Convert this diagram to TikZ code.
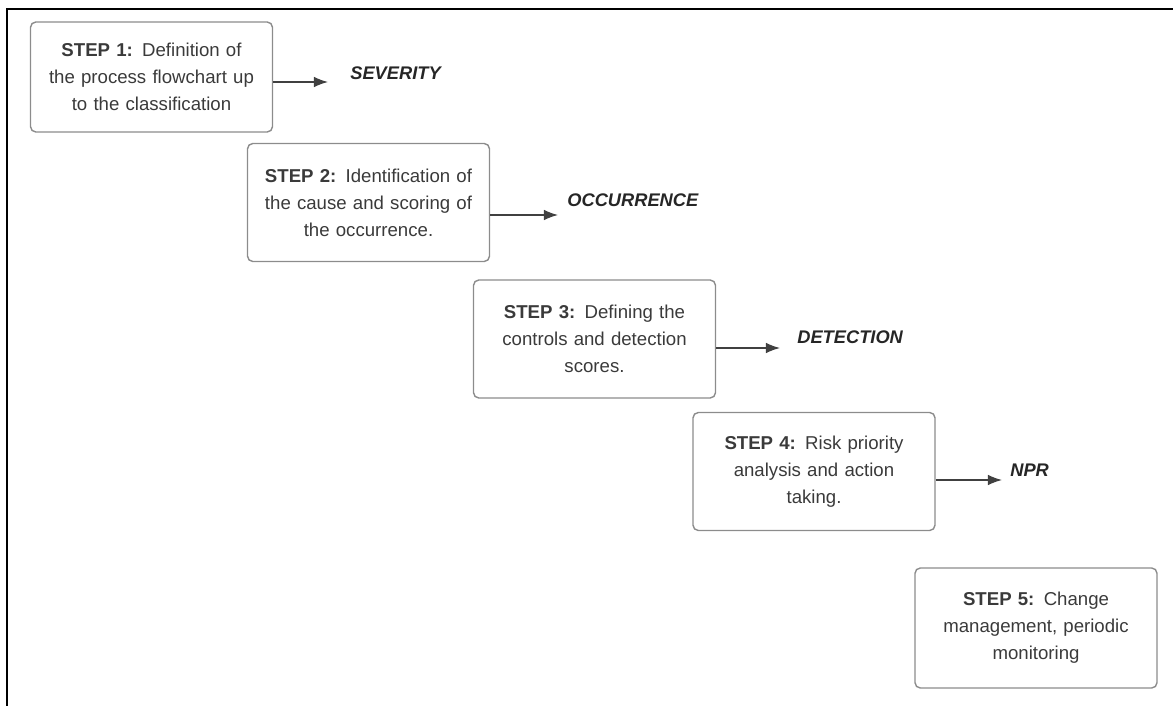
\documentclass[tikz,border=0pt]{standalone}
\usepackage{fontspec}
\setmainfont{Liberation Sans}
\usetikzlibrary{arrows.meta}

\definecolor{boxgray}{HTML}{8C8C8C}
\definecolor{txtgray}{HTML}{3A3A3A}

\begin{document}
\begin{tikzpicture}[x=0.02cm, y=-0.02cm,
	stepbox/.style = {draw=boxgray, line width=0.8pt, rounded corners=3pt, minimum width=4.84cm, minimum height=2.36cm, text width=4.7cm, align=center, text=txtgray, font=\fontsize{10.6}{15.3}\selectfont, inner sep=0pt},
	result/.style = {anchor=west, inner sep=0pt, font=\fontsize{10.4}{12}\selectfont\bfseries\itshape, text=black!85},
	flow/.style = {-{Latex[length=8pt,width=6pt]}, line width=0.7pt, draw=black!75}]
	\useasboundingbox (0,0) rectangle (1173,706);
	\draw[line width=1.2pt] (7,706) -- (7,9) -- (1173,9);
	\node[stepbox, minimum height=2.2cm] (s1) at (151.5,77) {\textbf{STEP 1:} Definition of\\the process flowchart up\\to the classification};
	\node[stepbox] (s2) at (368.5,202.5) {\textbf{STEP 2:} Identification of\\the cause and scoring of\\the occurrence.};
	\node[stepbox] (s3) at (594.5,339) {\textbf{STEP 3:} Defining the\\controls and detection\\scores.};
	\node[stepbox] (s4) at (814,471.5) {\textbf{STEP 4:} Risk priority\\analysis and action\\taking.};
	\node[stepbox, minimum height=2.4cm] (s5) at (1036,628) {\textbf{STEP 5:} Change\\management, periodic\\monitoring};
	\node[result] (sev) at (350,73) {SEVERITY};
	\node[result] (occ) at (567,200) {OCCURRENCE};
	\node[result] (det) at (797,337) {DETECTION};
	\node[result] (npr) at (1010,470) {NPR};
	\coordinate (e1) at (328,82);
	\coordinate (e2) at (558,215);
	\coordinate (e3) at (780,348);
	\coordinate (e4) at (1002,480);
	\draw[flow] (s1.east |- e1) -- (e1);
	\draw[flow] (s2.east |- e2) -- (e2);
	\draw[flow] (s3.east |- e3) -- (e3);
	\draw[flow] (s4.east |- e4) -- (e4);
\end{tikzpicture}
\end{document}
